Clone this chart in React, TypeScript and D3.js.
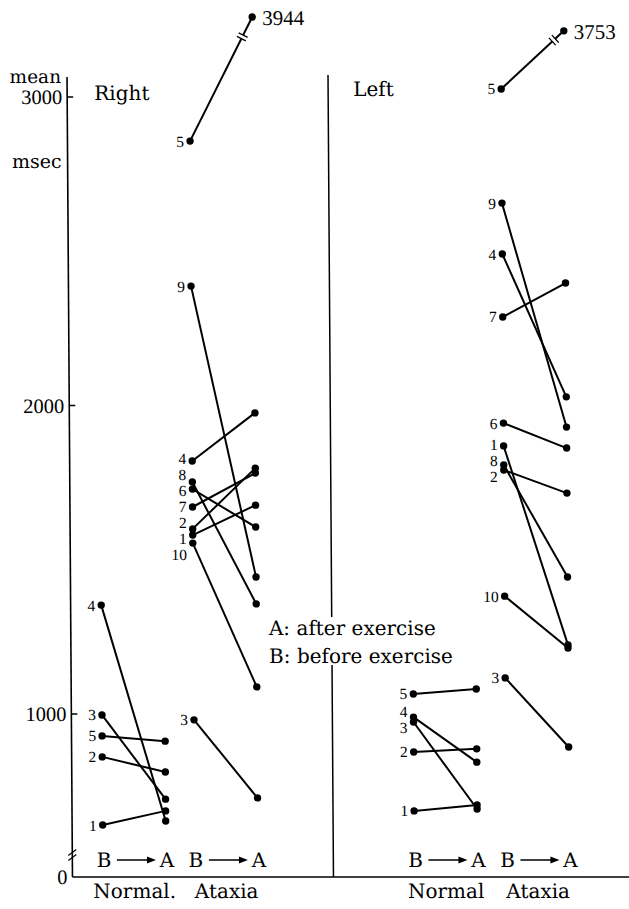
import React, { useEffect, useRef } from "react";
import * as d3 from "d3";

// subject numbers
const normalIds = ["1", "2", "3", "4", "5"];
const ataxiaIds = ["1", "2", "3", "4", "5", "6", "7", "8", "9", "10"];

// mean reaction time, msec (B = before, A = after exercise)
const rightNormalBefore = [640, 861, 997, 1353, 929];
const rightNormalAfter = [686, 812, 724, 653, 912];
const rightAtaxiaBefore = [1580, 1600, 981, 1820, 2857, 1729, 1671, 1752, 2387, 1554];
const rightAtaxiaAfter = [1677, 1797, 728, 1976, 3944, 1606, 1781, 1357, 1444, 1088];
const leftNormalBefore = [686, 877, 974, 990, 1065];
const leftNormalAfter = [705, 887, 692, 844, 1081];
const leftAtaxiaBefore = [1869, 1791, 1117, 2491, 3026, 1943, 2287, 1807, 2656, 1382];
const leftAtaxiaAfter = [1224, 1716, 893, 2028, 3753, 1862, 2397, 1444, 1930, 1214];

const sides = ["Right", "Left"];
const groups = ["Normal", "Ataxia"];
const groupLabels: Record<string, string[]> = {
  Right: ["Normal.", "Ataxia"],
  Left: ["Normal", "Ataxia"],
};
const yTicks = [0, 1000, 2000, 3000];
const legendLines = ["A: after exercise", "B: before exercise"];

// axis breaks
const lowBreak = 543;
const highBreak = 3050;

const serif = "'DejaVu Serif', serif";
const digits = "'Liberation Serif', serif";
const skew = 0.0068; // the scan leans a little

function dodge(ys: number[], gap: number) {
  const order = ys.map((_, i) => i).sort((a, b) => ys[a] - ys[b]);
  const out = ys.slice();
  for (let it = 0; it < 80; it++) {
    for (let k = 1; k < order.length; k++) {
      const a = order[k - 1];
      const b = order[k];
      const d = out[b] - out[a];
      if (d < gap) {
        const s = (gap - d) / 2;
        out[a] -= s;
        out[b] += s;
      }
    }
  }
  return out;
}

export default function App() {
  const ref = useRef<SVGSVGElement>(null);

  useEffect(() => {
    const svg = d3.select(ref.current);
    svg.selectAll("*").remove();

    const g = svg
      .append("g")
      .attr(
        "transform",
        `translate(${-skew * 500},0) skewX(${(Math.atan(skew) * 180) / Math.PI})`
      );

    const y = d3
      .scaleLinear()
      .domain([0, lowBreak, 1000, 3000, highBreak, 4000])
      .range([877, 855, 714, 97, 81.6, 13]);

    const panelX = d3.scaleOrdinal<string, number>().domain(sides).range([100.5, 412]);
    const groupX = d3.scaleBand().domain(groups).range([0, 155]).paddingInner(0.315);

    const panels = [
      { side: "Right", group: "Normal", ids: normalIds, before: rightNormalBefore, after: rightNormalAfter },
      { side: "Right", group: "Ataxia", ids: ataxiaIds, before: rightAtaxiaBefore, after: rightAtaxiaAfter },
      { side: "Left", group: "Normal", ids: normalIds, before: leftNormalBefore, after: leftNormalAfter },
      { side: "Left", group: "Ataxia", ids: ataxiaIds, before: leftAtaxiaBefore, after: leftAtaxiaAfter },
    ];

    // y axis
    const axisX = 69.9;
    g.append("line")
      .attr("x1", axisX).attr("y1", 77)
      .attr("x2", axisX).attr("y2", y(0))
      .attr("stroke", "#000").attr("stroke-width", 1.6);
    g.selectAll(".tick")
      .data(yTicks.filter((t) => t > 0))
      .join("line")
      .attr("x1", axisX).attr("x2", axisX + 6)
      .attr("y1", (d) => y(d)).attr("y2", (d) => y(d))
      .attr("stroke", "#000").attr("stroke-width", 1.4);
    g.selectAll(".tickLabel")
      .data(yTicks)
      .join("text")
      .attr("x", axisX - 5)
      .attr("y", (d) => y(d) + 7.5)
      .attr("text-anchor", "end")
      .attr("font-family", digits)
      .attr("font-size", 20.5)
      .text((d) => String(d));
    g.append("text").attr("x", axisX - 6).attr("y", 83).attr("text-anchor", "end")
      .attr("font-family", serif).attr("font-size", 18.5).text("mean");
    g.append("text").attr("x", axisX - 6).attr("y", 168).attr("text-anchor", "end")
      .attr("font-family", serif).attr("font-size", 19).text("msec");

    // axis break
    [-2.5, 2.5].forEach((o) => {
      g.append("line")
        .attr("x1", axisX - 4).attr("y1", y(lowBreak) + o + 3)
        .attr("x2", axisX + 4).attr("y2", y(lowBreak) + o - 3)
        .attr("stroke", "#000").attr("stroke-width", 1.2);
    });

    // baseline
    g.append("line")
      .attr("x1", axisX).attr("y1", y(0))
      .attr("x2", 640).attr("y2", y(0))
      .attr("stroke", "#000").attr("stroke-width", 1.6);

    // divider between sides, open around the legend
    const divX = 330.9;
    [[75, 617], [665, y(0)]].forEach(([a, b]) => {
      g.append("line")
        .attr("x1", divX).attr("y1", a).attr("x2", divX).attr("y2", b)
        .attr("stroke", "#000").attr("stroke-width", 1.5);
    });

    // side titles
    g.append("text").attr("x", 97).attr("y", 100).attr("font-family", serif)
      .attr("font-size", 20).text("Right");
    g.append("text").attr("x", 356).attr("y", 96).attr("font-family", serif)
      .attr("font-size", 20).text("Left");

    // legend
    g.selectAll(".legend")
      .data(legendLines)
      .join("text")
      .attr("x", 268)
      .attr("y", (_, i) => 635 + i * 28)
      .attr("font-family", serif)
      .attr("font-size", 20)
      .text((d) => d);

    panels.forEach((p) => {
      const xB = panelX(p.side) + (groupX(p.group) as number);
      const xA = xB + groupX.bandwidth();
      const rows = p.ids.map((id, i) => ({ id, b: p.before[i], a: p.after[i] }));

      const pg = g.append("g");
      pg.selectAll("line.pair")
        .data(rows)
        .join("line")
        .attr("x1", xB).attr("y1", (d) => y(d.b))
        .attr("x2", xA).attr("y2", (d) => y(d.a))
        .attr("stroke", "#000").attr("stroke-width", 2);

      // broken lines to far values
      rows.filter((d) => d.a > highBreak).forEach((d) => {
        const x1 = xB, y1 = y(d.b), x2 = xA, y2 = y(d.a);
        const len = Math.hypot(x2 - x1, y2 - y1);
        const ux = (x2 - x1) / len, uy = (y2 - y1) / len;
        const px = -uy, py = ux;
        const t = 0.84;
        const cx = x1 + (x2 - x1) * t, cy = y1 + (y2 - y1) * t;
        pg.append("line")
          .attr("x1", cx - ux * 2).attr("y1", cy - uy * 2)
          .attr("x2", cx + ux * 2).attr("y2", cy + uy * 2)
          .attr("stroke", "#fff").attr("stroke-width", 4);
        [-2, 2].forEach((o) => {
          pg.append("line")
            .attr("x1", cx + ux * o - px * 5).attr("y1", cy + uy * o - py * 5)
            .attr("x2", cx + ux * o + px * 5).attr("y2", cy + uy * o + py * 5)
            .attr("stroke", "#000").attr("stroke-width", 1.3);
        });
        pg.append("text")
          .attr("x", x2 + 10).attr("y", y2 + 8)
          .attr("font-family", digits).attr("font-size", 21)
          .text(String(d.a));
      });

      const dots = rows.flatMap((d) => [
        { x: xB, v: d.b },
        { x: xA, v: d.a },
      ]);
      pg.selectAll("circle")
        .data(dots)
        .join("circle")
        .attr("cx", (d) => d.x)
        .attr("cy", (d) => y(d.v))
        .attr("r", 3.7)
        .attr("fill", "#000");

      const labelY = dodge(rows.map((d) => y(d.b)), 16);
      pg.selectAll("text.id")
        .data(rows)
        .join("text")
        .attr("x", xB - 6)
        .attr("y", (_, i) => labelY[i] + 5.5)
        .attr("text-anchor", "end")
        .attr("font-family", digits)
        .attr("font-size", 15.5)
        .text((d) => d.id);

      // B -> A under each group
      const by = 867;
      pg.append("text").attr("x", xB + 1).attr("y", by).attr("text-anchor", "middle")
        .attr("font-family", serif).attr("font-size", 20).text("B");
      pg.append("text").attr("x", xA + 1).attr("y", by).attr("text-anchor", "middle")
        .attr("font-family", serif).attr("font-size", 20).text("A");
      pg.append("line")
        .attr("x1", xB + 14).attr("y1", 860)
        .attr("x2", xA - 18).attr("y2", 860)
        .attr("stroke", "#000").attr("stroke-width", 1.5);
      pg.append("path")
        .attr("d", `M${xA - 10},860 L${xA - 19},856.5 L${xA - 19},863.5 Z`)
        .attr("fill", "#000");

      pg.append("text")
        .attr("x", (xB + xA) / 2)
        .attr("y", 898)
        .attr("text-anchor", "middle")
        .attr("font-family", serif)
        .attr("font-size", 20)
        .text(groupLabels[p.side][groups.indexOf(p.group)]);
    });
  }, []);

  return (
    <svg
      ref={ref}
      width={629}
      height={909}
      style={{ position: "absolute", left: 0, top: 0, background: "#fff" }}
    ></svg>
  );
}
